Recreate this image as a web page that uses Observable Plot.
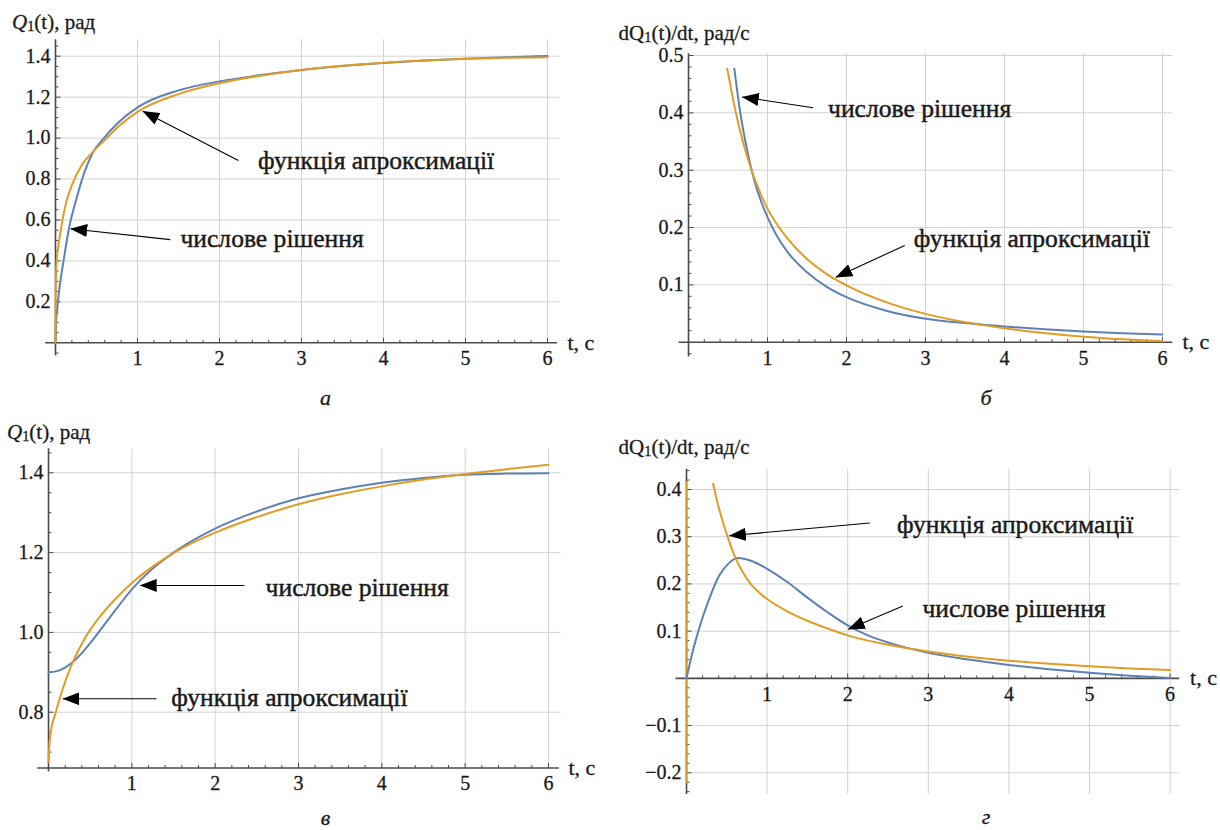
<!DOCTYPE html>
<html><head><meta charset="utf-8">
<script src="https://cdn.jsdelivr.net/npm/d3@7"></script>
<script src="https://cdn.jsdelivr.net/npm/@observablehq/plot@0.6"></script>
<style>
body{margin:0;background:#fff;}
#root{position:relative;width:1220px;height:830px;overflow:hidden;color:#1a1a1a;}
.panel{position:absolute;width:610px;height:415px;}
.panel svg{position:absolute;left:0;top:0;}
.title{position:absolute;font-size:21px;line-height:1;white-space:nowrap;-webkit-text-stroke:0.3px #1a1a1a;}
.title sub{font-size:0.68em;vertical-align:baseline;position:relative;top:0.2em;}
.cap{position:absolute;font-size:22px;font-style:italic;line-height:16px;transform:translate(-50%,-50%);-webkit-text-stroke:0.3px #1a1a1a;}
</style></head><body><div id="root"></div>
<script>
// ---------- data ----------
const xTicks = [1, 2, 3, 4, 5, 6];
const xTickLabels = ["1", "2", "3", "4", "5", "6"];
const timeAxisLabel = "t, с";
const titles = ["<i>Q</i><sub>1</sub>(t), рад", "dQ<sub>1</sub>(t)/dt, рад/с", "<i>Q</i><sub>1</sub>(t), рад", "dQ<sub>1</sub>(t)/dt, рад/с"];
const captions = ["а", "б", "в", "г"];
const labelNumeric = "числове рішення";
const labelApprox = "функція апроксимації";

// panel а
const aYTicks = [0.2, 0.4, 0.6, 0.8, 1.0, 1.2, 1.4];
const aYLabels = ["0.2", "0.4", "0.6", "0.8", "1.0", "1.2", "1.4"];
const aNumT = [0, 0.004, 0.012, 0.025, 0.04, 0.07, 0.1, 0.16, 0.26, 0.35, 0.45, 0.6, 0.75, 1, 1.5, 2, 2.5, 3, 3.5, 4, 4.5, 5, 5.5, 6];
const aNumV = [0, 0.08, 0.125, 0.18, 0.24, 0.33, 0.405, 0.55, 0.71, 0.83, 0.925, 1.005, 1.07, 1.15, 1.233, 1.277, 1.308, 1.333, 1.352, 1.367, 1.379, 1.388, 1.395, 1.401];
const aAppT = [0, 0.0005, 0.002, 0.005, 0.01, 0.03, 0.06, 0.12, 0.2, 0.33, 0.45, 0.6, 0.75, 1, 1.5, 2, 2.5, 3, 3.5, 4, 4.5, 5, 5.5, 6];
const aAppV = [0, 0.12, 0.22, 0.3, 0.37, 0.46, 0.54, 0.67, 0.77, 0.875, 0.93, 0.99, 1.05, 1.128, 1.215, 1.268, 1.305, 1.333, 1.353, 1.368, 1.379, 1.387, 1.392, 1.395];

// panel б
const bYTicks = [0.1, 0.2, 0.3, 0.4, 0.5];
const bYLabels = ["0.1", "0.2", "0.3", "0.4", "0.5"];
const bNumT = [0.58, 0.65, 0.72, 0.8, 0.84, 0.9, 1, 1.1, 1.25, 1.5, 1.75, 2, 2.5, 3, 3.5, 4, 4.5, 5, 5.5, 6];
const bNumV = [0.477, 0.405, 0.35, 0.30, 0.279, 0.253, 0.218, 0.19, 0.158, 0.122, 0.0965, 0.0785, 0.055, 0.041, 0.0333, 0.0274, 0.0228, 0.0187, 0.0158, 0.0134];
const bAppT = [0.49, 0.6, 0.7, 0.8, 0.9, 1, 1.25, 1.5, 1.75, 2, 2.5, 3, 3.5, 4, 4.5, 5, 5.5, 6];
const bAppV = [0.477, 0.40, 0.344, 0.299, 0.263, 0.233, 0.1815, 0.145, 0.1187, 0.099, 0.0698, 0.0494, 0.035, 0.0244, 0.016, 0.0095, 0.005, 0.0017];

// panel в
const cYTicks = [0.8, 1.0, 1.2, 1.4];
const cYLabels = ["0.8", "1.0", "1.2", "1.4"];
const cNumT = [0, 0.1, 0.2, 0.3, 0.4, 0.5, 0.6, 0.8, 1, 1.25, 1.55, 2, 2.5, 3, 3.5, 4, 4.5, 5, 5.5, 6];
const cNumV = [0.9, 0.903, 0.912, 0.927, 0.948, 0.973, 1.0, 1.055, 1.108, 1.16, 1.207, 1.26, 1.303, 1.336, 1.358, 1.375, 1.387, 1.395, 1.398, 1.399];
const cAppT = [0.003, 0.008, 0.02, 0.04, 0.08, 0.17, 0.29, 0.45, 0.6, 0.8, 1, 1.25, 1.55, 2, 2.5, 3, 3.5, 4, 4.5, 5, 5.5, 6];
const cAppV = [0.675, 0.71, 0.74, 0.765, 0.795, 0.858, 0.925, 0.99, 1.035, 1.083, 1.124, 1.165, 1.205, 1.25, 1.289, 1.321, 1.346, 1.366, 1.383, 1.397, 1.409, 1.42];

// panel г
const dYTicks = [-0.2, -0.1, 0.1, 0.2, 0.3, 0.4];
const dYLabels = ["−0.2", "−0.1", "0.1", "0.2", "0.3", "0.4"];
const dNumT = [0, 0.05, 0.1, 0.17, 0.27, 0.41, 0.52, 0.64, 0.8, 1, 1.25, 1.5, 1.75, 2, 2.25, 2.5, 2.75, 3, 3.5, 4, 4.5, 5, 5.5, 6];
const dNumV = [0, 0.038, 0.072, 0.113, 0.163, 0.219, 0.243, 0.255, 0.249, 0.232, 0.204, 0.171, 0.14, 0.112, 0.091, 0.076, 0.064, 0.054, 0.04, 0.0285, 0.0195, 0.012, 0.0058, 0.001];
const dAppT = [0.33, 0.4, 0.5, 0.6, 0.7, 0.8, 0.9, 1, 1.25, 1.5, 1.75, 2, 2.5, 2.83, 3, 3.5, 4, 4.5, 5, 5.5, 6];
const dAppV = [0.412, 0.362, 0.305, 0.258, 0.224, 0.199, 0.182, 0.168, 0.142, 0.122, 0.1055, 0.091, 0.071, 0.0615, 0.057, 0.046, 0.0375, 0.031, 0.0255, 0.021, 0.0176];
const dAppAxisT = [0, 0];
const dAppAxisV = [-0.22, 0.415];

// annotations (data coordinates)
const aArrows = [{x1: 2.23, y1: 0.891, x2: 1.065, y2: 1.131}, {x1: 1.40, y1: 0.504, x2: 0.185, y2: 0.557}];
const aLabels = [{t: 2.47, v: 0.891, text: labelApprox}, {t: 1.524, v: 0.508, text: labelNumeric}];
const bArrows = [{x1: 1.578, y1: 0.409, x2: 0.681, y2: 0.4276}, {x1: 2.738, y1: 0.1688, x2: 1.865, y2: 0.1134}];
const bLabels = [{t: 1.766, v: 0.407, text: labelNumeric}, {t: 2.852, v: 0.180, text: labelApprox}];
const cArrows = [{x1: 2.35, y1: 1.1176, x2: 1.10, y2: 1.1176}, {x1: 1.296, y1: 0.8336, x2: 0.173, y2: 0.8336}];
const cLabels = [{t: 2.605, v: 1.111, text: labelNumeric}, {t: 1.474, v: 0.835, text: labelApprox}];
const dArrows = [{x1: 2.274, y1: 0.329, x2: 0.532, y2: 0.302}, {x1: 2.685, y1: 0.1535, x2: 2.007, y2: 0.104}];
const dLabels = [{t: 2.613, v: 0.325, text: labelApprox}, {t: 2.927, v: 0.1465, text: labelNumeric}];

// ---------- font selection & sizing ----------
const cv = document.createElement("canvas").getContext("2d");
const sample = "функція апроксимації 0.123456789 Qdt";
function hasFont(name) {
  for (const base of ["monospace", "sans-serif"]) {
    cv.font = `40px ${base}`; const w0 = cv.measureText(sample).width;
    cv.font = `40px "${name}", ${base}`; const w1 = cv.measureText(sample).width;
    if (Math.abs(w1 - w0) > 0.5) return true;
  }
  return false;
}
const serifCandidates = ["Liberation Serif", "Tinos", "Times New Roman", "DejaVu Serif"];
const fam = serifCandidates.find(hasFont);
const FONT = fam ? `"${fam}", serif` : "serif";
function measure(text, size) { cv.font = `${size}px ${FONT}`; return cv.measureText(text).width; }
function sizeFor(text, targetWidth, lo, hi) { return Math.max(lo, Math.min(hi, 20 * targetWidth / measure(text, 20))); }
const labelSize = sizeFor(labelApprox + labelNumeric, 237 + 182.5, 18, 28);
const tickSize = sizeFor("1.41.0", 50, 16, 21);
const axisLabelSize = sizeFor(timeAxisLabel, 27, 16, 22);

// ---------- styles / layout ----------
const BLUE = "#5E81B5", ORANGE = "#E19C24", GRID = "#d3d3d3", AXIS = "#4a4a4a", INK = "#1a1a1a";
const series = (ts, vs) => ts.map((t, i) => ({t, v: vs[i]}));
const minorX = d3.range(1, 31).filter(i => i % 5 !== 0).map(i => i / 5);
document.getElementById("root").style.fontFamily = FONT;

const panels = [
  {left: 0, top: 0, mL: 55, mR: 63, mT: 55.7, mB: 72.7, yDomain: [0, 1.4], yTicks: aYTicks, yLabels: aYLabels,
   xAxisAt: 0, xFrom: -0.12, xTo: 6.12, yFrom: -0.065, yTo: 1.48, gridTop: 1.48, gridBottom: 0, gridRight: 6.15, minorStep: 0.05,
   curves: [{d: series(aNumT, aNumV), c: BLUE}, {d: series(aAppT, aAppV), c: ORANGE}], arrows: aArrows, labels: aLabels,
   title: {x: 12, y: 22, w: 87}, cap: {x: 325.5, y: 398}},
  {left: 610, top: 0, mL: 78, mR: 58, mT: 55, mB: 73.3, yDomain: [0, 0.5], yTicks: bYTicks, yLabels: bYLabels,
   xAxisAt: 0, xFrom: -0.12, xTo: 6.13, yFrom: -0.026, yTo: 0.503, gridTop: 0.503, gridBottom: 0, gridRight: 6.13, minorStep: 0.02,
   curves: [{d: series(bNumT, bNumV), c: BLUE}, {d: series(bAppT, bAppV), c: ORANGE}], arrows: bArrows, labels: bLabels,
   title: {x: 8.6, y: 33, w: 140}, cap: {x: 376, y: 398}},
  {left: 0, top: 415, mL: 48, mR: 62, mT: 57.3, mB: 118.3, yDomain: [0.8, 1.4], yTicks: cYTicks, yLabels: cYLabels,
   xAxisAt: 0.66, xFrom: -0.13, xTo: 6.13, yFrom: 0.65, yTo: 1.46, gridTop: 1.46, gridBottom: 0.66, gridRight: 6.15, minorStep: 0.05,
   curves: [{d: series(cNumT, cNumV), c: BLUE}, {d: series(cAppT, cAppV), c: ORANGE}], arrows: cArrows, labels: cLabels,
   title: {x: 7, y: 17, w: 84}, cap: {x: 325.5, y: 403}},
  {left: 610, top: 415, mL: 76, mR: 50.4, mT: 74, mB: 57.7, yDomain: [-0.2, 0.4], yTicks: dYTicks, yLabels: dYLabels,
   xAxisAt: 0, xFrom: -0.13, xTo: 6.12, yFrom: -0.246, yTo: 0.443, gridTop: 0.443, gridBottom: -0.246, gridRight: 6.12, minorStep: 0.02,
   curves: [{d: series(dAppAxisT, dAppAxisV), c: ORANGE}, {d: series(dNumT, dNumV), c: BLUE}, {d: series(dAppT, dAppV), c: ORANGE}], arrows: dArrows, labels: dLabels,
   title: {x: 8.6, y: 32, w: 134}, cap: {x: 376, y: 402}}
];

const tickSymbol = (dx, dy) => ({draw(ctx) { ctx.moveTo(0, 0); ctx.lineTo(dx, dy); }});
const ns = "http://www.w3.org/2000/svg";
const root = document.getElementById("root");

panels.forEach((p, k) => {
  const lo = Math.min(p.yFrom, p.xAxisAt), hi = p.yTo;
  const n0 = Math.ceil(lo / p.minorStep - 1e-9), n1 = Math.floor(hi / p.minorStep + 1e-9);
  const yMinor = d3.range(n0, n1 + 1).map(i => +(i * p.minorStep).toFixed(4))
    .filter(v => v !== p.xAxisAt && !p.yTicks.some(t => Math.abs(t - v) < 1e-6) && v > p.yFrom && v < p.yTo);

  const tickStyle = {fill: "none", stroke: AXIS, strokeWidth: 1, r: 2};
  const tickText = {fontSize: tickSize, fontFamily: FONT, fill: INK, stroke: INK, strokeWidth: 0.3};
  const svg = Plot.plot({
    width: 610, height: 415,
    marginLeft: p.mL, marginRight: p.mR, marginTop: p.mT, marginBottom: p.mB,
    x: {domain: [0, 6], axis: null},
    y: {domain: p.yDomain, axis: null},
    style: {fontFamily: FONT, color: INK, background: "transparent", overflow: "visible"},
    marks: [
      Plot.ruleX(xTicks, {x: d => d, y1: () => p.gridTop, y2: () => p.gridBottom, stroke: GRID, strokeWidth: 1}),
      Plot.ruleY(p.yTicks, {y: d => d, x1: () => 0, x2: () => p.gridRight, stroke: GRID, strokeWidth: 1}),
      Plot.ruleY([p.xAxisAt], {y: d => d, x1: () => p.xFrom, x2: () => p.xTo, stroke: AXIS, strokeWidth: 1.6}),
      Plot.ruleX([0], {x: d => d, y1: () => p.yFrom, y2: () => p.yTo, stroke: AXIS, strokeWidth: 1.6}),
      Plot.dot(minorX, {x: d => d, y: () => p.xAxisAt, symbol: tickSymbol(0, -3), ...tickStyle}),
      Plot.dot(xTicks, {x: d => d, y: () => p.xAxisAt, symbol: tickSymbol(0, -5), ...tickStyle}),
      Plot.dot(yMinor, {x: () => 0, y: d => d, symbol: tickSymbol(3, 0), ...tickStyle}),
      Plot.dot(p.yTicks, {x: () => 0, y: d => d, symbol: tickSymbol(5, 0), ...tickStyle}),
      Plot.text(xTicks, {x: d => d, y: () => p.xAxisAt, text: (d, i) => xTickLabels[i], dy: 16, ...tickText}),
      Plot.text(p.yTicks, {x: () => 0, y: d => d, text: (d, i) => p.yLabels[i], textAnchor: "end", dx: -5, ...tickText}),
      Plot.text([timeAxisLabel], {x: () => 6, y: () => p.xAxisAt, text: d => d, textAnchor: "start", dx: 20, ...tickText, fontSize: axisLabelSize}),
      ...p.curves.map(c => Plot.line(c.d, {x: "t", y: "v", stroke: c.c, strokeWidth: 2, curve: "monotone-x"})),
      Plot.link(p.arrows, {x1: "x1", y1: "y1", x2: "x2", y2: "y2", stroke: "#000", strokeWidth: 1.1}),
      Plot.text(p.labels, {x: "t", y: "v", text: "text", textAnchor: "start", fontSize: labelSize, fontFamily: FONT, fill: INK, stroke: INK, strokeWidth: 0.45, ariaLabel: "annotation"})
    ]
  });

  const div = document.createElement("div");
  div.className = "panel";
  div.style.left = p.left + "px";
  div.style.top = p.top + "px";
  div.appendChild(svg);
  root.appendChild(div);

  // filled arrowheads on the arrow links
  const defs = document.createElementNS(ns, "defs");
  const id = "ahead" + k;
  defs.innerHTML = `<marker id="${id}" viewBox="0 0 17 13" refX="16.5" refY="6.5" markerWidth="17" markerHeight="13" markerUnits="userSpaceOnUse" orient="auto"><path d="M0,0L17,6.5L0,13Z" fill="#000"/></marker>`;
  svg.insertBefore(defs, svg.firstChild);
  svg.querySelectorAll('g[aria-label="link"] path, g[aria-label="link"] line').forEach(el => el.setAttribute("marker-end", `url(#${id})`));

  // white boxes behind the annotation labels (under the curves)
  const firstLine = svg.querySelector('g[aria-label="line"]');
  const boxG = document.createElementNS(ns, "g");
  svg.querySelectorAll('g[aria-label="annotation"] text').forEach(t => {
    const b = t.getBBox();
    const m = t.getCTM();
    const r = document.createElementNS(ns, "rect");
    r.setAttribute("x", b.x + m.e - 12);
    r.setAttribute("y", b.y + m.f - 3);
    r.setAttribute("width", b.width + 34);
    r.setAttribute("height", b.height + 6);
    r.setAttribute("fill", "#fff");
    boxG.appendChild(r);
  });
  svg.insertBefore(boxG, firstLine);

  // axis title and caption
  const ti = document.createElement("div");
  ti.className = "title";
  ti.innerHTML = titles[k];
  ti.style.left = p.title.x + "px";
  div.appendChild(ti);
  const w0 = ti.getBoundingClientRect().width;
  const fs = Math.max(17, Math.min(21, 21 * p.title.w / w0));
  ti.style.fontSize = fs + "px";
  ti.style.top = (p.title.y - fs / 2) + "px";
  const ca = document.createElement("div");
  ca.className = "cap";
  ca.textContent = captions[k];
  ca.style.left = p.cap.x + "px";
  ca.style.top = p.cap.y + "px";
  div.appendChild(ca);
});
</script></body></html>
